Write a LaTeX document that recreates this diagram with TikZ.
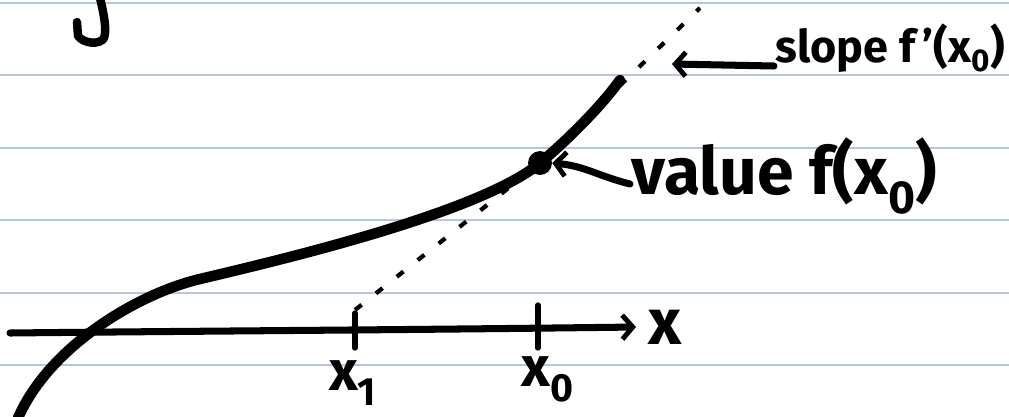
\documentclass[tikz,border=0pt]{standalone}
\usepackage{fontspec}
\setmainfont{Fira Sans}
\usetikzlibrary{arrows.meta, positioning, calc}
\definecolor{ruleblue}{HTML}{B7C6DB}
\definecolor{inkblack}{HTML}{000000}

\begin{document}
\begin{tikzpicture}[
  x=0.025cm, y=-0.025cm,
  >={Straight Barb[length=2.6mm, width=6mm, line width=3.5pt]},
  rule/.style={ruleblue, line width=1pt},
  pen/.style={inkblack, line width=5pt, line cap=round, line join=round},
  thickpen/.style={pen, line width=7.5pt},
  tangent/.style={inkblack, line width=3pt, dash pattern=on 6pt off 13pt},
  tick/.style={pen, line width=3.8pt},
  hand/.style={font=\bfseries\fontsize{32}{38}\selectfont, text=inkblack, inner sep=1pt},
  arr/.style={->, pen},
]

% Background and page rules
\fill[white] (0,0) rectangle (1009,416);
\useasboundingbox (0,0) rectangle (1009,416);
\foreach \ry in {3,75,148,220,293,365}
  \draw[rule] (0,\ry) -- (1009,\ry);

% Cut-off letter at the top
\draw[pen, line width=6pt] (100,-2) .. controls (104,15) and (107,30) .. (104,38)
  .. controls (100,45) and (84,44) .. (78,36) -- (77,22);

% =============================================
% Axis with ticks
% =============================================
\coordinate (axisstart) at (10,333);
\coordinate (axisend) at (636,327);
\draw[pen, ->] (axisstart) .. controls (200,331) and (400,330) .. (axisend);
\node[hand, font=\bfseries\fontsize{46}{50}\selectfont, right=8pt of axisend] (xlab) {x};

\coordinate (tickone) at (355,331);
\coordinate (tickzero) at (538,329);
\draw[tick] ($(tickone)+(0,-18)$) -- ($(tickone)+(0,17)$);
\draw[tick] ($(tickzero)+(0,-24)$) -- ($(tickzero)+(0,19)$);
\node[hand, font=\bfseries\fontsize{40}{44}\selectfont] (xone) at (353,383) {x\textsubscript{1}};
\node[hand, font=\bfseries\fontsize{40}{44}\selectfont] (xzero) at (548,379) {x\textsubscript{0}};

% =============================================
% Curve, point and tangent
% =============================================
\coordinate (fx) at (540,163);
\draw[thickpen] (18,418) .. controls (50,345) and (140,293) .. (200,279)
  .. controls (280,260) and (480,213) .. (fx)
  .. controls (565,142) and (600,108) .. (620,80);

\node[circle, fill=inkblack, inner sep=0pt, minimum size=17pt] (point) at (fx) {};

\draw[tangent] (tickone |- 0,310) -- (point.center) -- (700,8);

% =============================================
% Labels with arrows
% =============================================
\node[hand, anchor=west, font=\bfseries\fontsize{32}{38}\selectfont] (slopelab) at (774,48)
  {slope f\,'(x\textsubscript{0})};
\coordinate (slopetip) at (672,64);
\draw[arr] (slopelab.west |- 0,66) -- (slopetip);

\node[hand, anchor=west, font=\bfseries\fontsize{47}{52}\selectfont] (valuelab) at (630,176)
  {value f(x\textsubscript{0})};
\draw[arr] (valuelab.west |- 0,184) .. controls (598,176) and (585,166) .. (point.east);

\end{tikzpicture}
\end{document}
